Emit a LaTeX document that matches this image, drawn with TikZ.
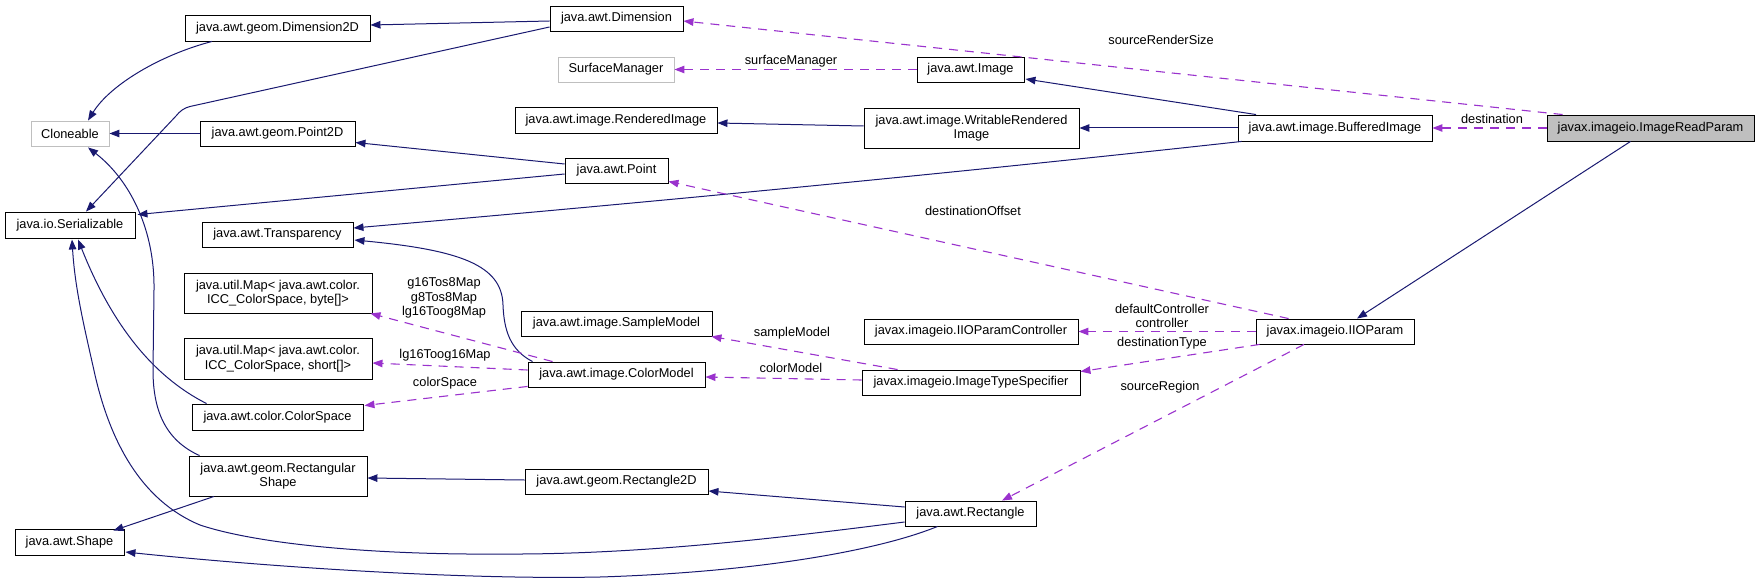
\documentclass[tikz,border=0pt]{standalone}
\usepackage{fontspec}
\setmainfont{Liberation Sans}
\usetikzlibrary{arrows.meta,calc}
\definecolor{navy}{HTML}{191970}
\definecolor{orchid}{HTML}{9A32CD}
\definecolor{boxgray}{HTML}{BFBFBF}
\begin{document}
\begin{tikzpicture}[x=1pt,y=-1pt,
  cls/.style={draw=black, line width=0.9pt, fill=white, inner sep=0pt,
    font=\fontsize{12.8}{14.5}\selectfont, align=center},
  ext/.style={cls, draw=boxgray},
  cur/.style={cls, fill=boxgray},
  inh/.style={draw=navy, line width=1pt, -{Triangle[length=10pt,width=7.5pt]}},
  use/.style={draw=orchid, line width=1.1pt, dash pattern=on 9pt off 7pt,
    -{Triangle[length=10pt,width=7.5pt]}},
  lbl/.style={font=\fontsize{12.8}{14.5}\selectfont, inner sep=0pt, align=center}]
\useasboundingbox (0,0) rectangle (1760,583);

% nodes
\node[cls, minimum width=185, minimum height=26] (dimtwod) at (277.5,28) {java.awt.geom.Dimension2D};
\node[cls, minimum width=133, minimum height=25] (dim) at (616.5,18.5) {java.awt.Dimension};
\node[ext, minimum width=116, minimum height=25] (surf) at (616,69.5) {SurfaceManager};
\node[cls, minimum width=107, minimum height=25] (image) at (970.5,69.5) {java.awt.Image};
\node[ext, minimum width=78, minimum height=25] (clone) at (70,133.5) {Cloneable};
\node[cls, minimum width=155, minimum height=25] (pointtwod) at (277.5,133.5) {java.awt.geom.Point2D};
\node[cls, minimum width=202, minimum height=26] (rimg) at (616,120) {java.awt.image.RenderedImage};
\node[cls, minimum width=215, minimum height=40] (wri) at (971.5,128) {java.awt.image.WritableRendered\\Image};
\node[cls, minimum width=194, minimum height=26] (bimg) at (1335,128) {java.awt.image.BufferedImage};
\node[cur, minimum width=207, minimum height=26] (irp) at (1650.5,128) {javax.imageio.ImageReadParam};
\node[cls, minimum width=103, minimum height=25] (point) at (616.5,170.5) {java.awt.Point};
\node[cls, minimum width=130, minimum height=26] (ser) at (70,225) {java.io.Serializable};
\node[cls, minimum width=151, minimum height=25] (transp) at (277.5,234.5) {java.awt.Transparency};
\node[cls, minimum width=188, minimum height=40] (mapb) at (278,293) {java.util.Map< java.awt.color.\\ICC\_ColorSpace, byte[]>};
\node[cls, minimum width=191, minimum height=25] (smodel) at (616.5,323.5) {java.awt.image.SampleModel};
\node[cls, minimum width=214, minimum height=25] (ctrl) at (971,331.5) {javax.imageio.IIOParamController};
\node[cls, minimum width=158, minimum height=25] (iio) at (1335,331.5) {javax.imageio.IIOParam};
\node[cls, minimum width=188, minimum height=41] (maps) at (278,358.5) {java.util.Map< java.awt.color.\\ICC\_ColorSpace, short[]>};
\node[cls, minimum width=177, minimum height=25] (cmodel) at (616.5,374.5) {java.awt.image.ColorModel};
\node[cls, minimum width=218, minimum height=25] (its) at (971,382.5) {javax.imageio.ImageTypeSpecifier};
\node[cls, minimum width=171, minimum height=26] (cspace) at (277.5,417) {java.awt.color.ColorSpace};
\node[cls, minimum width=178, minimum height=40] (rshape) at (278,476) {java.awt.geom.Rectangular\\Shape};
\node[cls, minimum width=183, minimum height=25] (rect2d) at (616.5,481.5) {java.awt.geom.Rectangle2D};
\node[cls, minimum width=131, minimum height=25] (rect) at (970.5,513.5) {java.awt.Rectangle};
\node[cls, minimum width=109, minimum height=26] (shape) at (69.5,542) {java.awt.Shape};

% inheritance (solid navy)
\draw[inh] ($(dim.west)+(0,2.5)$) -- ($(dimtwod.east)+(0,-3)$);
\draw[inh] ($(dim.west)+(0,8.5)$) -- (190,106.5) .. controls (184,108) and (180,111) .. (176,116) -- ($(ser.north)+(16,0)$);
\draw[inh] ($(dimtwod.south)+(-65.5,0)$) .. controls (160,55) and (110,85) .. ($(clone.north)+(18,0)$);
\draw[inh] (pointtwod.west) -- (clone.east);
\draw[inh] ($(point.west)+(0,-6.5)$) -- ($(pointtwod.east)+(0,9)$);
\draw[inh] ($(point.west)+(0,3.5)$) -- ($(ser.north east)+(2,3)$);
\draw[inh] ($(bimg.north)+(-79,0)$) -- ($(image.east)+(1,9.5)$);
\draw[inh] (bimg.west) -- (wri.east);
\draw[inh] ($(wri.west)+(0,-2)$) -- ($(rimg.east)+(0,3)$);
\draw[inh] ($(bimg.south west)+(4,0)$) .. controls (1000,168) and (700,198) .. ($(transp.east)+(0,-6.5)$);
\draw[inh] ($(cmodel.north west)+(5,0)$) .. controls (510,350) and (504,330) .. (503,305) .. controls (502,265) and (460,250) .. ($(transp.east)+(1,5.5)$);
\draw[inh] ($(rshape.north west)+(11,0)$) .. controls (165,440) and (153,410) .. (153,370) -- (154,290) .. controls (155,230) and (130,180) .. ($(clone.south)+(18,1)$);
\draw[inh] ($(cspace.north west)+(15,0)$) .. controls (150,375) and (110,320) .. ($(ser.south)+(8,1)$);
\draw[inh] ($(rshape.south)+(-64,0)$) -- ($(shape.north east)+(-11,2)$);
\draw[inh] ($(rect2d.west)+(0,-1.5)$) -- ($(rshape.east)+(0,2)$);
\draw[inh] ($(rect.west)+(0,-6.5)$) -- ($(rect2d.east)+(0,9.5)$);
\draw[inh] ($(rect.west)+(0,8.5)$) .. controls (800,535) and (650,555) .. (500,554)
  .. controls (380,555) and (260,545) .. (200,525)
  .. controls (140,500) and (110,440) .. (95,375)
  .. controls (85,330) and (75,290) .. ($(ser.south)+(2,1)$);
\draw[inh] ($(rect.south)+(-33,0)$) .. controls (880,550) and (760,572) .. (600,577)
  .. controls (450,580) and (250,565) .. ($(shape.east)+(1,10)$);
\draw[inh] ($(irp.south)+(-20,0)$) -- ($(iio.north)+(22,0)$);

% usage (dashed purple)
\draw[use] ($(irp.north west)+(16,0)$) -- ($(dim.east)+(0,2.5)$);
\draw[use] (irp.west) -- (bimg.east);
\draw[use] (image.west) -- (surf.east);
\draw[use] ($(iio.north west)+(33,0)$) -- ($(point.south east)+(0,-2)$);
\draw[use] (iio.west) -- (ctrl.east);
\draw[use] ($(iio.south west)+(4,0)$) -- ($(its.north east)+(0,2)$);
\draw[use] ($(iio.south)+(-31,0)$) -- ($(rect.north)+(31.5,0)$);
\draw[use] ($(its.north west)+(36,0)$) -- ($(smodel.south east)+(-1,0)$);
\draw[use] ($(its.west)+(0,-2.5)$) -- ($(cmodel.east)+(0,2.5)$);
\draw[use] ($(cmodel.north west)+(25,0)$) -- ($(mapb.south east)+(-2,0)$);
\draw[use] ($(cmodel.west)+(0,-4.5)$) -- ($(maps.east)+(0,4.5)$);
\draw[use] ($(cmodel.south west)+(0,-1)$) -- ($(cspace.north east)+(1,2)$);

% labels
\node[lbl] (l1) at (1161,40) {sourceRenderSize};
\node[lbl] (l2) at (1492,119) {destination};
\node[lbl] (l3) at (791,61) {surfaceManager};
\node[lbl] (l4) at (973,211) {destinationOffset};
\node[lbl] (l5) at (1162,316) {defaultController\\controller};
\node[lbl] (l6) at (1162,343) {destinationType};
\node[lbl] (l7) at (1160,387) {sourceRegion};
\node[lbl] (l8) at (792,333) {sampleModel};
\node[lbl] (l9) at (791,368) {colorModel};
\node[lbl] (l10) at (444,298) {g16Tos8Map\\g8Tos8Map\\lg16Toog8Map};
\node[lbl] (l11) at (445,355) {lg16Toog16Map};
\node[lbl] (l12) at (445,383) {colorSpace};
\end{tikzpicture}
\end{document}
